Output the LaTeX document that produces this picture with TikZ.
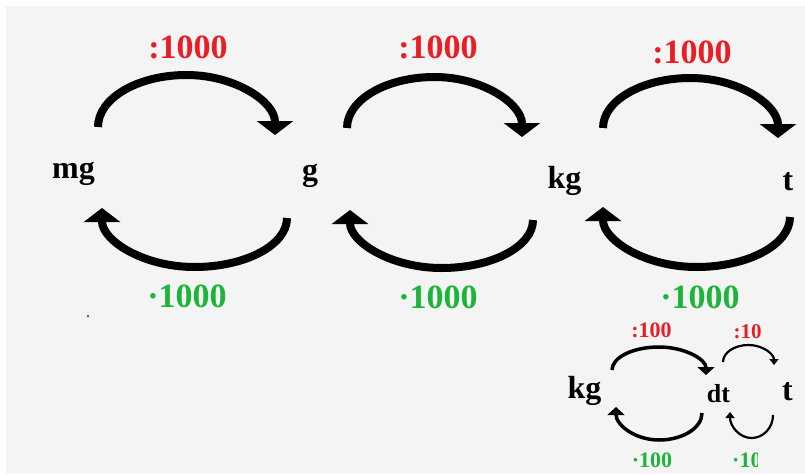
\documentclass[tikz,border=0pt]{standalone}
\usepackage{fontspec}
\setmainfont{Liberation Serif}
\usetikzlibrary{arrows.meta}
\definecolor{bgc}{RGB}{244,244,244}
\definecolor{redc}{RGB}{232,30,36}
\definecolor{greenc}{RGB}{30,180,58}
\tikzset{
  unit/.style={anchor=base,inner sep=0pt,font=\bfseries\fontsize{32}{32}\selectfont,text=black},
  divl/.style={anchor=base,inner sep=0pt,font=\bfseries\fontsize{34}{34}\selectfont,text=redc},
  mull/.style={anchor=base,inner sep=0pt,font=\bfseries\fontsize{34}{34}\selectfont,text=greenc},
  sdivl/.style={anchor=base,inner sep=0pt,font=\bfseries\fontsize{22}{22}\selectfont,text=redc},
  smull/.style={anchor=base,inner sep=0pt,font=\bfseries\fontsize{22}{22}\selectfont,text=greenc},
  bigarc/.style={line width=8pt,-{Triangle[width=36pt,length=14pt]}},
  midarc/.style={line width=3.5pt,-{Triangle[width=17pt,length=8pt]}},
  tinyarc/.style={line width=2.2pt,-{Triangle[width=9pt,length=6pt]}}
}
\begin{document}
\begin{tikzpicture}[x=1pt,y=1pt]
\useasboundingbox (0,0) rectangle (805,-474);
\fill[white] (0,0) rectangle (805,-474);
\fill[bgc] (6,-6) rectangle (805,-474);
% unit labels
\node[unit] (mg) at (73.5,-178) {mg};
\node[unit] (g) at (310,-180) {g};
\node[unit] (kg) at (564.5,-188) {kg};
\node[unit] (t) at (788,-190) {t};
% operation labels
\node[divl] (d1) at (188,-58) {:1000};
\node[divl] (d2) at (438,-58) {:1000};
\node[divl] (d3) at (692,-63) {:1000};
\node[mull] (m1) at (187,-307) {·1000};
\node[mull] (m2) at (438,-308) {·1000};
\node[mull] (m3) at (700,-308) {·1000};
% big top arcs
\coordinate (t1s) at (98,-127);  \coordinate (t1a) at (186.5,-75); \coordinate (t1e) at (275,-135);
\coordinate (t2s) at (347,-128); \coordinate (t2a) at (434.5,-77); \coordinate (t2e) at (522,-137);
\coordinate (t3s) at (603,-128); \coordinate (t3a) at (690.5,-78); \coordinate (t3e) at (778,-138);
\draw[bigarc] (t1s) .. controls +(0,28.7) and +(-48.9,0) .. (t1a) .. controls +(48.9,0) and +(0,33.1) .. (t1e);
\draw[bigarc] (t2s) .. controls +(0,28.2) and +(-48.3,0) .. (t2a) .. controls +(48.3,0) and +(0,33.1) .. (t2e);
\draw[bigarc] (t3s) .. controls +(0,27.6) and +(-48.3,0) .. (t3a) .. controls +(48.3,0) and +(0,33.1) .. (t3e);
% big bottom arcs
\coordinate (b1s) at (287,-218); \coordinate (b1a) at (194.5,-267); \coordinate (b1e) at (102,-208);
\coordinate (b2s) at (533,-220); \coordinate (b2a) at (441.5,-268); \coordinate (b2e) at (350,-210);
\coordinate (b3s) at (790,-217); \coordinate (b3a) at (696.5,-267); \coordinate (b3e) at (603,-207);
\draw[bigarc] (b1s) .. controls +(0,-27.0) and +(51.1,0) .. (b1a) .. controls +(-51.1,0) and +(0,-32.6) .. (b1e);
\draw[bigarc] (b2s) .. controls +(0,-26.5) and +(50.5,0) .. (b2a) .. controls +(-50.5,0) and +(0,-32.0) .. (b2e);
\draw[bigarc] (b3s) .. controls +(0,-27.6) and +(51.6,0) .. (b3a) .. controls +(-51.6,0) and +(0,-33.1) .. (b3e);
% stray dot
\fill[black] (88,-316) circle (1);
% small diagram
\node[unit] (skg) at (584.5,-398) {kg};
\node[unit,font=\bfseries\fontsize{26}{26}\selectfont] (sdt) at (718.5,-402) {dt};
\node[unit] (st) at (787.5,-400) {t};
\node[sdivl] (sd1) at (651.5,-337) {:100};
\node[sdivl,font=\bfseries\fontsize{21}{21}\selectfont] (sd2) at (747.5,-338) {:10};
\node[smull] (sm1) at (652,-467) {·100};
\begin{scope}
\clip (700,-440) rectangle (757,-474);
\node[smull,anchor=base west] (sm2) at (732,-467) {·10};
\end{scope}
\coordinate (sAs) at (612,-370); \coordinate (sAa) at (659,-347); \coordinate (sAe) at (706,-375);
\coordinate (sBs) at (702,-413); \coordinate (sBa) at (659,-440); \coordinate (sBe) at (616,-407);
\coordinate (sCs) at (723,-362); \coordinate (sCa) at (748.5,-345); \coordinate (sCe) at (774,-365);
\coordinate (sDs) at (773,-415); \coordinate (sDa) at (751.5,-438); \coordinate (sDe) at (730,-412);
\draw[midarc] (sAs) .. controls +(0,12.7) and +(-25.9,0) .. (sAa) .. controls +(25.9,0) and +(0,15.5) .. (sAe);
\draw[midarc] (sBs) .. controls +(0,-14.9) and +(23.7,0) .. (sBa) .. controls +(-23.7,0) and +(0,-18.2) .. (sBe);
\draw[tinyarc] (sCs) .. controls +(0,9.4) and +(-14.1,0) .. (sCa) .. controls +(14.1,0) and +(0,11) .. (sCe);
\draw[tinyarc] (sDs) .. controls +(0,-12.7) and +(11.9,0) .. (sDa) .. controls +(-11.9,0) and +(0,-14.4) .. (sDe);
\end{tikzpicture}
\end{document}
